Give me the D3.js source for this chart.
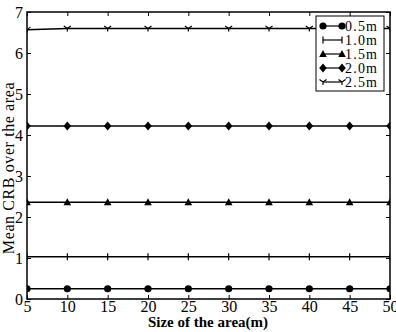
<!DOCTYPE html>
<html>
<head>
<meta charset="utf-8">
<script src="https://cdn.jsdelivr.net/npm/d3@7/dist/d3.min.js"></script>
<style>
  body { margin: 0; background: #fff; }
  svg { display: block; }
  svg text { font-family: "Liberation Serif", "DejaVu Serif", serif; fill: #000; }
</style>
</head>
<body>
<svg width="396" height="332"></svg>
<script>
// area sizes on the x axis
var sizes = [5, 10, 15, 20, 25, 30, 35, 40, 45, 50];
var seriesNames = ['0.5m', '1.0m', '1.5m', '2.0m', '2.5m'];
var crb05 = [0.25, 0.25, 0.25, 0.25, 0.25, 0.25, 0.25, 0.25, 0.25, 0.25];
var crb10 = [1.03, 1.03, 1.03, 1.03, 1.03, 1.03, 1.03, 1.03, 1.03, 1.03];
var crb15 = [2.36, 2.36, 2.36, 2.36, 2.36, 2.36, 2.36, 2.36, 2.36, 2.36];
var crb20 = [4.22, 4.22, 4.22, 4.22, 4.22, 4.22, 4.22, 4.22, 4.22, 4.22];
var crb25 = [6.57, 6.60, 6.60, 6.60, 6.60, 6.60, 6.60, 6.60, 6.60, 6.60];
var markers = ['circle', 'plus', 'triangle', 'diamond', 'tridown'];
var xTicks = [5, 10, 15, 20, 25, 30, 35, 40, 45, 50];
var yTicks = [0, 1, 2, 3, 4, 5, 6, 7];

var allSeries = [crb05, crb10, crb15, crb20, crb25];

// note: "top" is taken by window.top, so use plot* names
var plotL = 27, plotR = 390, plotT = 12, plotB = 299;
var svg = d3.select('svg');

var x = d3.scaleLinear().domain([5, 50]).range([plotL, plotR]);
var y = d3.scaleLinear().domain([0, 7]).range([plotB, plotT]);

svg.append('clipPath').attr('id', 'plot')
  .append('rect').attr('x', plotL).attr('y', plotT)
  .attr('width', plotR - plotL).attr('height', plotB - plotT);

// axes with inward ticks on all four sides
function styleAxis(g) {
  g.attr('font-family', null).attr('font-size', null);
  g.select('.domain').remove();
  g.selectAll('line').attr('stroke', '#000').attr('stroke-width', 1);
  g.selectAll('text').style('font-size', '16px');
}
svg.append('g').attr('transform', 'translate(0,' + plotB + ')')
  .call(d3.axisBottom(x).tickValues(xTicks).tickSizeInner(-4).tickSizeOuter(0).tickPadding(2).tickFormat(d3.format('d')))
  .call(styleAxis);
svg.append('g').attr('transform', 'translate(0,' + plotT + ')')
  .call(d3.axisTop(x).tickValues(xTicks).tickSizeInner(-4).tickSizeOuter(0).tickFormat(''))
  .call(styleAxis);
svg.append('g').attr('transform', 'translate(' + plotL + ',0)')
  .call(d3.axisLeft(y).tickValues(yTicks).tickSizeInner(-4).tickSizeOuter(0).tickPadding(4).tickFormat(d3.format('d')))
  .call(styleAxis);
svg.append('g').attr('transform', 'translate(' + plotR + ',0)')
  .call(d3.axisRight(y).tickValues(yTicks).tickSizeInner(-4).tickSizeOuter(0).tickFormat(''))
  .call(styleAxis);

function drawMarker(g, kind, cx, cy) {
  if (kind == 'circle') {
    g.append('circle').attr('cx', cx).attr('cy', cy).attr('r', 3.6).attr('fill', '#000');
  } else if (kind == 'plus') {
    g.append('path').attr('d', 'M' + cx + ',' + (cy - 3.5) + 'V' + (cy + 3.5))
      .attr('stroke', '#000').attr('stroke-width', 1.2);
  } else if (kind == 'triangle') {
    g.append('path').attr('d', 'M' + cx + ',' + (cy - 4) + 'L' + (cx + 3.8) + ',' + (cy + 3) + 'L' + (cx - 3.8) + ',' + (cy + 3) + 'Z')
      .attr('fill', '#000');
  } else if (kind == 'diamond') {
    g.append('path').attr('d', 'M' + cx + ',' + (cy - 4.5) + 'L' + (cx + 3.8) + ',' + cy + 'L' + cx + ',' + (cy + 4.5) + 'L' + (cx - 3.8) + ',' + cy + 'Z')
      .attr('fill', '#000');
  } else {
    g.append('path').attr('d', 'M' + (cx - 3.5) + ',' + (cy - 2.5) + 'L' + cx + ',' + cy + 'L' + (cx + 3.5) + ',' + (cy - 2.5) + 'M' + cx + ',' + cy + 'V' + (cy + 3))
      .attr('stroke', '#000').attr('stroke-width', 1.2).attr('fill', 'none');
  }
}

var line = d3.line().x(function(d, i) { return x(sizes[i]); }).y(function(d) { return y(d); });
var plot = svg.append('g').attr('clip-path', 'url(#plot)');
allSeries.forEach(function(vals, s) {
  plot.append('path').datum(vals).attr('d', line)
    .attr('fill', 'none').attr('stroke', '#000').attr('stroke-width', 1.5);
  vals.forEach(function(v, i) {
    drawMarker(plot, markers[s], x(sizes[i]), y(v));
  });
});

// frame
svg.append('rect').attr('x', plotL).attr('y', plotT)
  .attr('width', plotR - plotL).attr('height', plotB - plotT)
  .attr('fill', 'none').attr('stroke', '#000').attr('stroke-width', 1.5);

// legend
var lg = svg.append('g');
lg.append('rect').attr('x', 316).attr('y', 16).attr('width', 68).attr('height', 75)
  .attr('fill', '#fff').attr('stroke', '#000').attr('stroke-width', 1);
seriesNames.forEach(function(name, s) {
  var ly = 26 + s * 14;
  lg.append('line').attr('x1', 323).attr('x2', 342).attr('y1', ly).attr('y2', ly)
    .attr('stroke', '#000').attr('stroke-width', 1.2);
  drawMarker(lg, markers[s], 323, ly);
  drawMarker(lg, markers[s], 342, ly);
  lg.append('text').attr('x', 345).attr('y', ly + 5).text(name)
    .style('font-size', '14px').style('letter-spacing', '1.2px');
});

svg.append('text').attr('x', 208).attr('y', 327).attr('text-anchor', 'middle')
  .style('font-size', '15px').style('font-weight', 'bold').text('Size of the area(m)');
svg.append('text').attr('transform', 'translate(14,168) rotate(-90)').attr('text-anchor', 'middle')
  .style('font-size', '16px').style('letter-spacing', '0.6px').text('Mean CRB over the area');
</script>
</body>
</html>
